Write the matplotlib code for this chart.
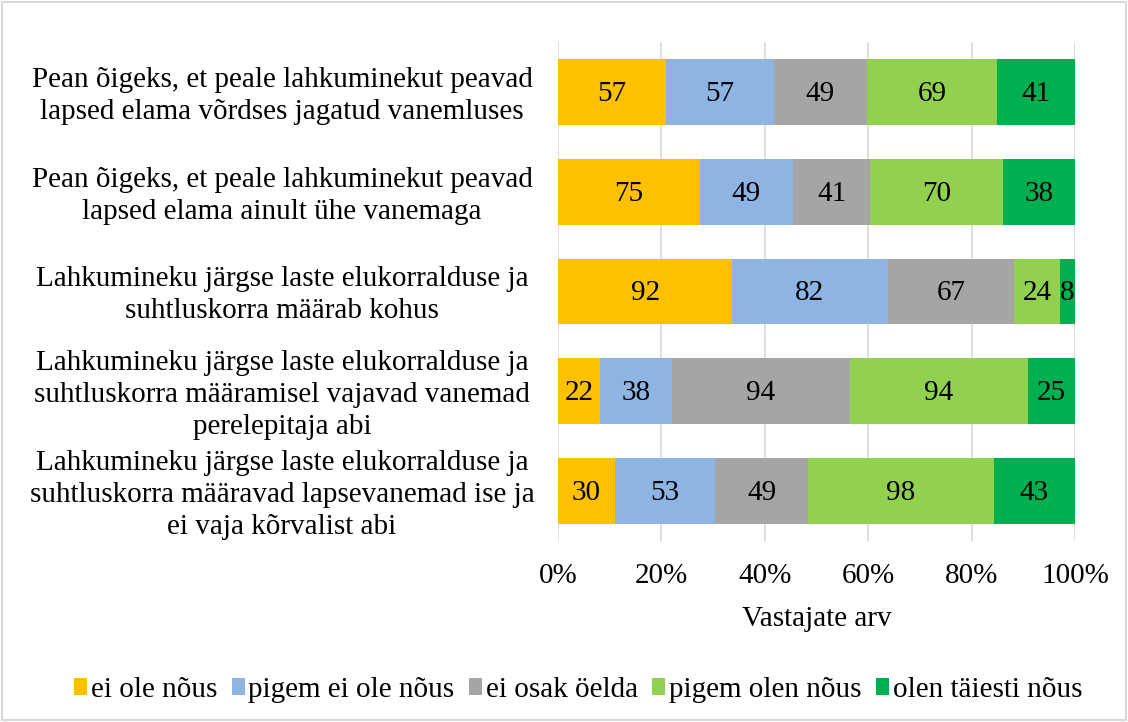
import matplotlib.pyplot as plt
import numpy as np
from matplotlib.ticker import PercentFormatter

plt.rcParams['font.family'] = ['Liberation Serif', 'DejaVu Serif']

# statements, top to bottom
statements = [
    "Pean õigeks, et peale lahkuminekut peavad\nlapsed elama võrdses jagatud vanemluses",
    "Pean õigeks, et peale lahkuminekut peavad\nlapsed elama ainult ühe vanemaga",
    "Lahkumineku järgse laste elukorralduse ja\nsuhtluskorra määrab kohus",
    "Lahkumineku järgse laste elukorralduse ja\nsuhtluskorra määramisel vajavad vanemad\nperelepitaja abi",
    "Lahkumineku järgse laste elukorralduse ja\nsuhtluskorra määravad lapsevanemad ise ja\nei vaja kõrvalist abi",
]

answers = ["ei ole nõus", "pigem ei ole nõus", "ei osak öelda",
           "pigem olen nõus", "olen täiesti nõus"]
colors = ["#FFC000", "#8EB4E3", "#A5A5A5", "#92D050", "#00B050"]

# respondent counts per answer (columns follow `answers`)
ei_ole = [57, 75, 92, 22, 30]
pigem_ei = [57, 49, 82, 38, 53]
ei_oska = [49, 41, 67, 94, 49]
pigem_jah = [69, 70, 24, 94, 98]
taiesti = [41, 38, 8, 25, 43]

FS = 21

counts = np.array([ei_ole, pigem_ei, ei_oska, pigem_jah, taiesti]).T
shares = counts / counts.sum(axis=1, keepdims=True) * 100

fig = plt.figure(figsize=(11.28, 7.22), dpi=100)
ax = fig.add_axes([558 / 1128, 1 - 541 / 722, (1075 - 558) / 1128, 499 / 722])

y = np.arange(len(statements))
left = np.zeros(len(statements))
for j, name in enumerate(answers):
    ax.barh(y, shares[:, j], left=left, height=0.66, color=colors[j],
            label=name, zorder=2)
    for i in range(len(statements)):
        ax.text(left[i] + shares[i, j] / 2, y[i] + 0.02, str(counts[i, j]),
                ha='center', va='center', fontsize=FS, color='black', zorder=3)
    left += shares[:, j]

ax.set_xlim(0, 100)
ax.set_ylim(len(statements) - 0.5, -0.5)
ax.xaxis.set_major_formatter(PercentFormatter(decimals=0))
ax.set_xticks(range(0, 101, 20))
ax.grid(axis='x', color='#D9D9D9', linewidth=1.2, zorder=0)
for s in ax.spines.values():
    s.set_visible(False)
ax.tick_params(axis='both', length=0, labelsize=FS)
ax.tick_params(axis='x', pad=16)
ax.set_yticks(y)
ax.set_yticklabels([])

# category labels, centred in the space left of the bars
for i, txt in enumerate(statements):
    ax.annotate(txt, xy=(0, y[i]), xycoords=('axes fraction', 'data'),
                xytext=(-276, -4), textcoords='offset pixels',
                ha='center', va='center', multialignment='center',
                linespacing=1.3, fontsize=FS, annotation_clip=False)

ax.set_xlabel("Vastajate arv", fontsize=FS, labelpad=12)

fig.legend(loc='center', bbox_to_anchor=(578 / 1128, 1 - 690 / 722), ncol=5,
           frameon=False, fontsize=FS, handlelength=0.45, handleheight=0.55,
           handletextpad=0.12, columnspacing=0.5, borderaxespad=0)

# thin grey frame around the whole picture
fig.patches.append(plt.Rectangle((0.002, 0.003), 0.996, 0.994, transform=fig.transFigure,
                                 fill=False, edgecolor='#D9D9D9', linewidth=1.5))

fig.savefig("out.png", dpi=100)
